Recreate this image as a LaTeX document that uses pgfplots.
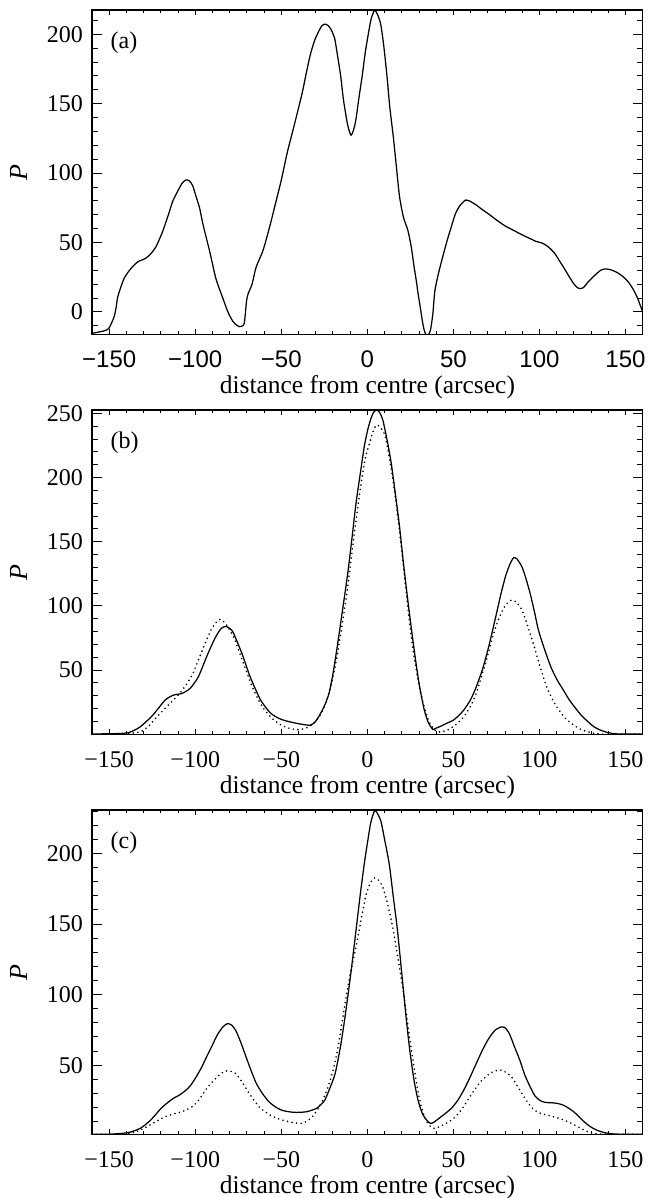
\documentclass[border=0pt]{standalone}
\usepackage{fontspec}
\setmainfont{Liberation Serif}
\newfontfamily\helv{Liberation Sans}
\usepackage{pgfplots}
\pgfplotsset{compat=1.18}
\newcommand\fs{\fontsize{24}{28}\selectfont}
\pgfplotsset{
 panel/.style={
  scale only axis, width=550.7pt, height=324.3pt,
  xmin=-160, xmax=160,
  xtick={-150,-100,-50,0,50,100,150},
  xticklabels={−150,−100,−50,0,50,100,150},
  minor xtick={-160,-150,...,160},
  axis line style={line width=1.1pt},
  every tick/.style={black, line width=0.9pt},
  xtick style={/pgfplots/major tick length=5.5pt,/pgfplots/minor tick length=3.3pt},
  ytick style={/pgfplots/major tick length=10pt,/pgfplots/minor tick length=6pt},
  tick align=inside,
  tick pos=both,
  ticklabel style={font=\fs, inner sep=0pt},
  xticklabel style={anchor=base, yshift=-33.5pt},
  yticklabel style={anchor=east, xshift=-9pt},
  xlabel={distance from centre (arcsec)},
  xlabel style={font=\fontsize{25.5}{30}\selectfont, at={(axis description cs:0.5,-0.1819)}, anchor=base, inner sep=0pt},
  ylabel={\itshape P},
  ylabel style={font=\fontsize{26}{30}\selectfont, at={(axis description cs:-0.118,0.5)}, anchor=base, inner sep=0pt},
  clip=true,
 },
 solidc/.style={black, line width=1.25pt, smooth, tension=0.4, mark=none},
 dottedc/.style={black, line width=1.8pt, line cap=round, dash pattern=on 0pt off 4.6pt, smooth, tension=0.4, mark=none},
}
\newcommand\plabel[1]{\node[anchor=base west, inner sep=0pt, font=\fs] at (axis description cs:0.0336,0.8819) {#1};}
\begin{document}
\begin{tikzpicture}
\path[use as bounding box] (0,0) rectangle (650pt,1198pt);
% ---------------- (a)
\begin{axis}[panel, at={(92pt,863.7pt)}, anchor=south west,
  ymin=-16.1, ymax=217.5,
  ytick={0,50,100,150,200}, yticklabels={0,50,100,150,200},
  minor ytick={-10,0,...,210},
  xticklabel style={font=\helv\fs}]
\addplot[solidc] coordinates {
(-160.5,-15.6) (-155.8,-14.4) (-152,-13.3) (-150,-11.5) (-148.5,-7.5) (-147.1,-3.4)
(-146,3) (-145.2,10) (-143.5,17) (-141.3,24.3) (-138.5,29.5) (-136.4,32.6) (-133.5,36)
(-128.7,38.7) (-125.8,42) (-122.8,47) (-119,57.8) (-115.1,72) (-113,80) (-110.2,87)
(-107.5,93) (-105.5,95) (-103.5,94.5) (-101.5,91) (-99.5,83) (-97.5,75) (-95.5,63)
(-91.5,43) (-88,24) (-84,10) (-81.2,0.5) (-78.3,-6.5) (-76,-9.5) (-74.4,-10.6)
(-72.5,-10) (-71.5,-8) (-70.8,0) (-70.2,8) (-69.3,13) (-67,20) (-64.7,32) (-61,43)
(-58.8,52) (-56,65) (-53,80) (-50,95) (-46.5,115) (-42.8,133) (-38,157) (-35.5,172)
(-33,186) (-30.5,196) (-28.3,202) (-26.5,206) (-24.7,207.3) (-23,206.5) (-21.1,203.5)
(-19,197) (-17.5,186) (-15.5,170) (-13.9,153) (-11.5,135) (-9.5,127.3) (-7.8,132)
(-6.6,139) (-4.8,155) (-3.0,170) (-1.2,187) (0.6,200.5) (2.2,211) (4.2,217.3) (6,214)
(7.8,207) (9.5,192) (11.4,170) (13,148) (15.1,126) (17,103) (18.7,83) (21,68) (23.5,59)
(25.5,47) (27.1,33) (28.5,22) (29.5,13) (30.8,3) (31.9,-6) (33,-13) (34.3,-17)
(35.5,-16.5) (36.7,-13) (38,-2) (39.2,15) (41,26) (42.8,35) (44.5,43) (46.4,51.6)
(48.7,61) (51.2,70.8) (54,77) (57.2,80.6) (60,79.5) (63.3,77) (67,73.5) (70.5,70.5)
(75.3,66) (80,62) (84.9,58.8) (90,55.5) (94.6,52.8) (98,50.8) (101.8,49.5) (105.5,46.5)
(109,42) (111.5,37) (113.9,32.4) (117,26) (119.9,20.4) (122,17.5) (123.5,16.8)
(125.5,17.5) (128.3,21.6) (131,25) (135.5,30) (138.5,31) (141.6,30.3) (145,28.5)
(148.8,25.2) (152,21) (154.8,15.6) (157,10) (158.5,5) (160,0) (161,-4)
};
\plabel{(a)}
\end{axis}
% ---------------- (b)
\begin{axis}[panel, at={(92pt,463.7pt)}, anchor=south west,
  ymin=0, ymax=252.6,
  ytick={0,50,100,150,200,250}, yticklabels={,50,100,150,200,250},
  minor ytick={0,10,...,250}]
\addplot[solidc] coordinates {
(-160,0.3) (-150,0.4) (-139,1.2) (-132,5.8) (-124.7,14.9) (-117.5,26.6) (-112.7,30.5)
(-107.8,31.8) (-103,35.7) (-98.2,44.8) (-93.4,60.4) (-88.6,74.7) (-84.9,82.5) (-82,84)
(-79.5,82) (-77.7,78.6) (-72.9,63) (-68.1,44.8) (-62,26.6) (-56,16.2) (-50,11.6)
(-42.8,9) (-33.5,7) (-30.5,9.5) (-28.3,13.6) (-25,22) (-22.3,31.8) (-20,47) (-17.5,68.2)
(-14.5,96) (-11.4,125.3) (-9,152) (-6.6,179.9) (-4,204) (-1.8,224) (0,236) (1.8,244.8)
(3.5,250.5) (5.4,252.6) (7.2,250.5) (9,244.8) (11.5,229) (13.9,211) (16.3,187)
(18.7,161.7) (21,133) (23.5,104.5) (26,78) (28.3,55.2) (30.5,36) (33.1,18.8) (35.5,9)
(38,3.8) (39.5,4.5) (42.8,6.4) (46,8.5) (50,11) (53,14.5) (56,18.8) (60,27) (63.3,37)
(67,51) (70.5,68.2) (74,88) (77.7,109.7) (80.5,124) (83,133) (85,137.5) (87,136.5)
(89.8,130.5) (92,122) (94.6,109.7) (97,96) (99.4,81.2) (103,66) (106.6,52.6) (110,43)
(113.9,34.4) (117.5,26.5) (121.1,20.1) (124.5,14.5) (128.3,9.7) (131.5,6) (135.5,3.2)
(140,1.3) (145.2,0.3) (160,0.2)
};
\addplot[dottedc] coordinates {
(-160,0) (-141.6,0.2) (-131.9,2) (-127,6.5) (-122.3,13.6) (-117,21) (-112.7,26.6)
(-109,32) (-105.4,38.3) (-101.5,47) (-98.2,57.8) (-94.5,70) (-90.9,81.2) (-88,87)
(-85.5,89.5) (-82.5,86.5) (-78.9,78.6) (-76.5,72) (-74.1,63) (-70.5,50) (-66.9,37)
(-63,26) (-59.6,18.8) (-55,12) (-50,7.1) (-45,4.5) (-40.4,3.6) (-36.5,4.5) (-33.1,6.4)
(-29.5,11) (-25.9,18.8) (-22.5,31) (-18.7,52.6) (-15,82) (-11.4,114.9) (-8,152)
(-4.2,190) (-1.2,215) (1.8,229) (3.6,237) (5.4,240.9) (7.5,239) (10.2,233) (13,214)
(16.3,185) (20,143) (23.5,99.4) (26.5,66) (29.5,42.2) (32.5,24) (35.5,11) (38,5)
(40.4,1.9) (43,2) (46.4,3.2) (51,7) (56,13.6) (60,22) (63,31) (65.7,42.2) (69,57)
(72,72) (75.3,86.4) (78,95) (80.5,101) (83.7,104.5) (86.5,103) (89.8,96.8) (93,85)
(97,68.2) (100.5,52) (104.2,37) (108,26) (111.4,18.8) (115,12.5) (118.7,8.4) (123,4.5)
(128.3,1.9) (135.5,0.2) (160,0)
};
\plabel{(b)}
\end{axis}
% ---------------- (c)
\begin{axis}[panel, at={(92pt,63.7pt)}, anchor=south west,
  ymin=1.04, ymax=230.7,
  ytick={50,100,150,200}, yticklabels={50,100,150,200},
  minor ytick={10,20,...,230}]
\addplot[solidc] coordinates {
(-160,1.05) (-150,1.1) (-139.2,2.2) (-131.9,5.3) (-125.9,11.1) (-119.9,19.4) (-116,23.5)
(-112.7,26.5) (-109,29) (-105.4,32.3) (-102.5,36) (-99.4,41.8) (-96.5,48) (-93.4,55.9)
(-90.3,63.5) (-87.3,71.2) (-84,77) (-81.3,79.4) (-79,78.5) (-76.5,74.7) (-73.5,66)
(-70.5,55.9) (-67.5,46) (-64.5,37) (-61,30) (-57.2,24.1) (-53.5,20.5) (-50,18.2)
(-46.5,17.2) (-42.8,16.6) (-39,16.6) (-35.5,17.0) (-32.5,18) (-29.5,19.4) (-27,22)
(-24.7,25.3) (-22,33) (-18.7,44.1) (-15.5,64) (-12.7,86.5) (-9.5,116) (-6.6,145.4)
(-4,172) (-1.8,192.5) (0,207) (1.8,220.7) (3.2,227) (4.2,230.1) (5.5,229) (7.8,223.1)
(10,210) (12.7,192.5) (15,170) (17.5,145.4) (20,115) (22.3,86.5) (24.5,62) (27.1,39.4)
(29.5,25) (31.9,15.9) (34.5,11) (36.7,8.8) (38.5,9.5) (41.6,12.3) (45,15.5) (48.8,19.4)
(52.5,25) (56,32.3) (59.5,41) (63.3,51.2) (67,61) (70.5,68.8) (74,74.5) (77.7,77.1)
(80,76.5) (82.5,72.4) (85.5,63) (88.6,53.5) (91.5,43) (94.6,34.7) (97.5,28) (100.6,24.8)
(103.5,23.6) (106.6,23.4) (110,23) (113.9,21.7) (117,19.5) (119.9,17) (123,13.5)
(125.9,10) (129.5,6.5) (133.1,4.1) (137.5,2.3) (142.8,1.3) (150,1.05) (160,1.05)
};
\addplot[dottedc] coordinates {
(-160,1) (-141.6,1.1) (-136,2.3) (-131.9,4.1) (-128,6.5) (-124.7,8.8) (-121,11.3)
(-117.5,13.5) (-112.5,15.5) (-107.8,17) (-104,19) (-100.6,21.7) (-97,27) (-93.4,33.5)
(-89.8,38.5) (-86.1,42.9) (-83.5,45.3) (-81.3,46) (-79,45.5) (-76.5,44.1) (-73,38.5)
(-69.3,31.2) (-65.5,24.5) (-62,19.4) (-57,15) (-52.4,12.3) (-47.5,10.5) (-42.8,9.3)
(-38,8.8) (-35,10.5) (-31.9,13.5) (-29,18.5) (-25.9,25.3) (-23,34) (-19.9,46.5) (-17,63)
(-13.9,86.5) (-10.5,111) (-6.6,133.6) (-3.5,154) (-0.6,171.3) (2,179.5) (4.2,182.6)
(6.5,181) (9,176) (12,163) (15.1,145.4) (18,124) (21.1,100.6) (24,74) (27.1,48.8)
(29.5,31) (31.9,18.2) (34.5,10) (37.9,5.3) (41,6) (44,7.6) (47.5,10) (51.2,13.5) (55,19)
(58.4,25.3) (62,32) (65.7,38.2) (69.5,42.5) (72.9,45.3) (75.5,46.3) (77.7,46.5) (80.5,45)
(83.7,41.8) (86.5,36.5) (89.8,30) (93.5,23) (97,18.2) (100.5,16) (104.2,14.7) (108,13.5)
(111.4,12.3) (115,10.7) (118.7,8.8) (122.5,6.3) (125.9,4.1) (129.5,2.2) (133.1,1.3)
(140,1.05) (160,1)
};
\plabel{(c)}
\end{axis}
\end{tikzpicture}
\end{document}
